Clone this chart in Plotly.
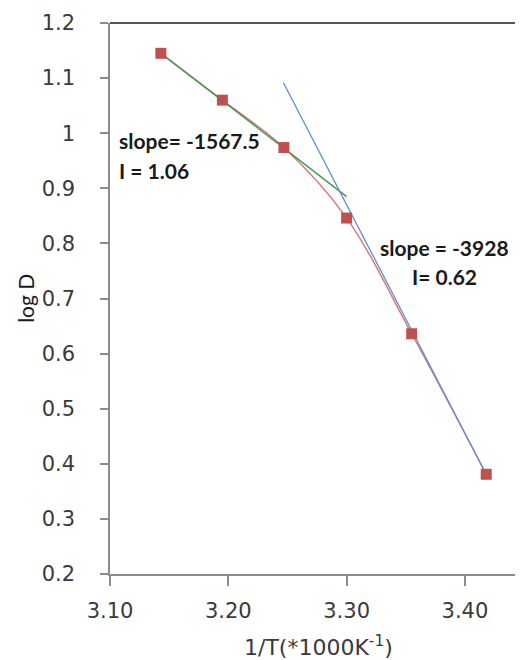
import plotly.graph_objects as go

# Data
inv_T = [3.143, 3.195, 3.247, 3.300, 3.355, 3.418]
log_D = [1.145, 1.060, 0.974, 0.846, 0.636, 0.381]

# Linear fit segments
fit1_x = [3.143, 3.300]
fit1_y = [1.145, 0.885]
fit2_x = [3.2465, 3.418]
fit2_y = [1.092, 0.381]

x_ticks = [3.10, 3.20, 3.30, 3.40]
x_tick_labels = ["3.10", "3.20", "3.30", "3.40"]
y_ticks = [0.2, 0.3, 0.4, 0.5, 0.6, 0.7, 0.8, 0.9, 1.0, 1.1, 1.2]
y_tick_labels = ["0.2", "0.3", "0.4", "0.5", "0.6", "0.7", "0.8", "0.9", "1", "1.1", "1.2"]

label_text = ["slope= -1567.5", "I = 1.06", "slope = -3928", "I= 0.62"]
label_x = [3.106, 3.106, 3.383, 3.383]
label_y = [0.986, 0.932, 0.792, 0.740]
label_anchor = ["left", "left", "center", "center"]

x_title = "1/T(*1000K<sup>-1</sup>)"
y_title = "log D"

fig = go.Figure()

fig.add_trace(go.Scatter(
    x=inv_T, y=log_D, mode="lines",
    line=dict(color="#DB7472", width=1.4, shape="spline", smoothing=1.0),
    hoverinfo="skip", showlegend=False))
fig.add_trace(go.Scatter(
    x=fit1_x, y=fit1_y, mode="lines",
    line=dict(color="#3E9B4F", width=1.5), showlegend=False))
fig.add_trace(go.Scatter(
    x=fit2_x, y=fit2_y, mode="lines",
    line=dict(color="#5B8ED3", width=1.3), showlegend=False))
fig.add_trace(go.Scatter(
    x=inv_T, y=log_D, mode="markers",
    marker=dict(symbol="square", size=11, color="#C0504D"),
    showlegend=False))

for t, x, y, a in zip(label_text, label_x, label_y, label_anchor):
    fig.add_annotation(x=x, y=y, xref="x", yref="y", text="<b>" + t + "</b>",
                       showarrow=False, xanchor=a, yanchor="middle",
                       font=dict(family="Lato", size=21, color="#1a1a1a"))

# Axis titles
fig.add_annotation(x=0.504, y=-0.1307, xref="paper", yref="paper", text=x_title,
                   showarrow=False, xanchor="center", yanchor="middle",
                   font=dict(family="DejaVu Sans", size=22, color="#3a3a3a"))
fig.add_annotation(x=-0.205, y=0.50, xref="paper", yref="paper", text=y_title,
                   showarrow=False, xanchor="center", yanchor="middle", textangle=-90,
                   borderpad=0,
                   font=dict(family="Lato", size=21, color="#1a1a1a"))

axis_color = "#8C8C8C"
fig.update_xaxes(
    range=[3.10, 3.4491], tickvals=x_ticks, ticktext=x_tick_labels,
    showgrid=False, zeroline=False, showline=True, linecolor=axis_color, linewidth=1.5,
    ticks="outside", ticklen=10, tickcolor=axis_color, tickwidth=1.5,
    ticklabelstandoff=7, automargin=False,
    tickfont=dict(family="DejaVu Sans", size=21, color="#3a3a3a"))
fig.update_yaxes(
    range=[0.2, 1.2], tickvals=y_ticks, ticktext=y_tick_labels,
    showgrid=False, zeroline=False, showline=True, linecolor=axis_color, linewidth=1.5,
    ticks="outside", ticklen=8, tickcolor=axis_color, tickwidth=1.5,
    ticklabelstandoff=21, automargin=False,
    tickfont=dict(family="DejaVu Sans", size=21, color="#3a3a3a"))

fig.add_shape(type="line", xref="paper", yref="paper", x0=0, x1=1, y0=1, y1=1,
              line=dict(color="#555555", width=2))

fig.update_layout(
    width=515, height=652,
    margin=dict(l=102, r=0, t=15, b=86, autoexpand=False),
    paper_bgcolor="white", plot_bgcolor="white",
    showlegend=False)

fig.write_html("out.html")
